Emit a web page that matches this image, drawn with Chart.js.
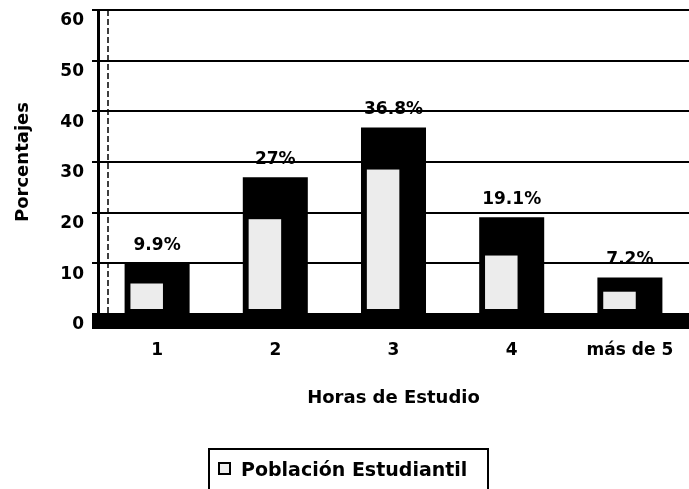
<!DOCTYPE html>
<html>
<head>
<meta charset="utf-8">
<script src="https://cdn.jsdelivr.net/npm/chart.js@4.4.0/dist/chart.umd.min.js"></script>
<style>
  html, body { margin: 0; padding: 0; background: #fff; }
  #wrap { position: relative; width: 689px; height: 489px; overflow: hidden; }
  #legend {
    position: absolute; left: 208px; top: 448px; width: 281px; height: 50px;
    border: 2px solid #000; box-sizing: border-box;
    font: bold 19px "DejaVu Sans", sans-serif; color: #000;
    padding: 8px 0 0 8px; white-space: nowrap;
  }
  #legend span.box {
    display: inline-block; width: 9px; height: 9px; border: 2px solid #000;
    background: #eee; margin-right: 10px; vertical-align: 1px;
  }
</style>
</head>
<body>
<div id="wrap">
  <canvas id="chart" width="689" height="489"></canvas>
  <div id="legend"></div>
</div>
<script>
// datos
const categorias = ["1", "2", "3", "4", "más de 5"];
const porcentajes = [9.9, 27, 36.8, 19.1, 7.2];
const etiquetas = ["9.9%", "27%", "36.8%", "19.1%", "7.2%"];
const serie = "Población Estudiantil";
const ticksY = [0, 10, 20, 30, 40, 50, 60];

const fuente = '"DejaVu Sans", sans-serif';

// relleno claro dentro de cada barra, piso negro y etiquetas de valor
const extras = {
    id: "extras",
    beforeDatasetsDraw(chart) {
        const ctx = chart.ctx;
        const area = chart.chartArea;
        // pared del fondo (linea punteada)
        ctx.save();
        ctx.strokeStyle = "#000";
        ctx.lineWidth = 1.5;
        ctx.setLineDash([6, 3]);
        ctx.beginPath();
        ctx.moveTo(area.left + 10, area.top);
        ctx.lineTo(area.left + 10, area.bottom);
        ctx.stroke();
        ctx.restore();
    },
    afterDatasetsDraw(chart) {
        const ctx = chart.ctx;
        const area = chart.chartArea;
        const meta = chart.getDatasetMeta(0);

        ctx.save();
        meta.data.forEach((bar, i) => {
            const left = bar.x - bar.width / 2;
            const top = bar.y + Math.min(42, (bar.base - bar.y) * 0.4);
            const bottom = bar.base - 4;
            if (bottom > top) {
                ctx.fillStyle = "#ececec";
                ctx.fillRect(left + bar.width * 0.09, top, bar.width * 0.5, bottom - top);
            }
            ctx.fillStyle = "#000";
            ctx.font = "bold 17px " + fuente;
            ctx.textAlign = "center";
            ctx.textBaseline = "middle";
            ctx.fillText(etiquetas[i], bar.x, bar.y - 18);
        });

        // piso
        ctx.fillStyle = "#000";
        ctx.fillRect(area.left - 6, area.bottom + 1, area.right - area.left + 12, 14);
        ctx.restore();
    }
};

const ctx = document.getElementById("chart").getContext("2d");
const chart = new Chart(ctx, {
    type: "bar",
    data: {
        labels: categorias,
        datasets: [{
            label: serie,
            data: porcentajes,
            backgroundColor: "#000",
            borderWidth: 0,
            barPercentage: 0.55,
            categoryPercentage: 1
        }]
    },
    options: {
        responsive: false,
        animation: false,
        layout: { padding: { left: 0, right: 0, top: 0, bottom: 80 } },
        plugins: {
            legend: { display: false },
            tooltip: { enabled: false }
        },
        scales: {
            x: {
                grid: { display: false, drawTicks: false },
                border: { display: false },
                ticks: {
                    color: "#000",
                    padding: 26,
                    maxRotation: 0,
                    font: { family: fuente, size: 17, weight: "bold" }
                },
                title: {
                    display: true,
                    text: "Horas de Estudio",
                    color: "#000",
                    padding: { top: 4, bottom: 0 },
                    font: { family: fuente, size: 18, weight: "bold" }
                },
                afterFit(scale) {
                    scale.height = 95;
                    scale.paddingLeft = 0;
                    scale.paddingRight = 0;
                }
            },
            y: {
                min: 0,
                max: 60,
                afterBuildTicks(scale) {
                    scale.ticks = ticksY.map(v => ({ value: v }));
                },
                grid: { color: "#000", lineWidth: 2, tickLength: 6 },
                border: { color: "#000", width: 3 },
                ticks: {
                    color: "#000",
                    padding: 8,
                    labelOffset: 11,
                    font: { family: fuente, size: 17, weight: "bold" }
                },
                title: {
                    display: true,
                    text: "Porcentajes",
                    color: "#000",
                    padding: { top: 13, bottom: 0 },
                    font: { family: fuente, size: 18, weight: "bold" }
                },
                afterFit(scale) {
                    scale.width = 98;
                    scale.paddingTop = 10;
                    scale.paddingBottom = 0;
                }
            }
        }
    },
    plugins: [extras]
});

// leyenda
document.getElementById("legend").innerHTML =
    '<span class="box"></span>' + chart.data.datasets[0].label;
</script>
</body>
</html>
